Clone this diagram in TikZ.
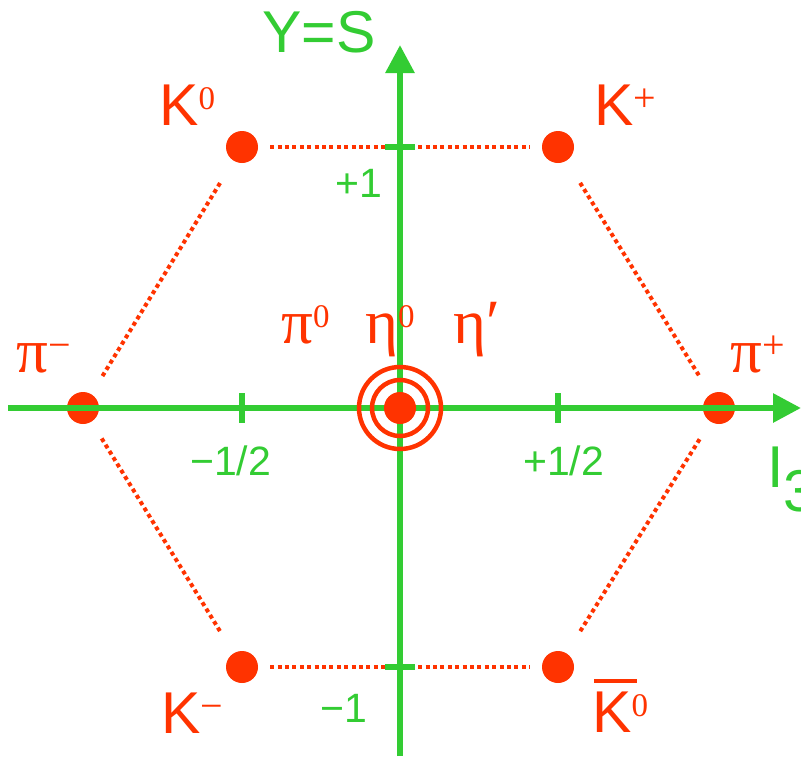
\documentclass[tikz,border=0pt]{standalone}
\usepackage{fontspec}
\setmainfont{Liberation Sans}
\newfontfamily\greekfont{Liberation Serif}
\usetikzlibrary{arrows.meta}
\definecolor{meson-red}{RGB}{255,51,0}
\definecolor{axis-green}{RGB}{51,204,51}
\newcommand{\mesonsup}[1]{\raisebox{16pt}{\fontsize{33}{33}\selectfont\greekfont #1}}
\newcommand{\mesoncharge}[1]{\raisebox{14pt}{\fontsize{40}{40}\selectfont\greekfont #1}}
\tikzset{
  meson-dot/.style={circle, fill=meson-red, minimum size=32pt, inner sep=0pt},
  meson-link/.style={draw=meson-red, line width=4pt, dash pattern=on 4pt off 3.4pt},
  meson-ring/.style={draw=meson-red, line width=4.5pt},
  meson-label/.style={text=meson-red, inner sep=0pt, anchor=base west,
    font=\fontsize{59}{60}\selectfont},
  greek-label/.style={meson-label, font=\fontsize{63}{63}\selectfont\greekfont},
  axis-line/.style={draw=axis-green, line width=6pt, -{Triangle[length=28pt, width=28pt]}},
  axis-tick/.style={draw=axis-green, line width=6pt},
  axis-label/.style={text=axis-green, inner sep=0pt, anchor=base west,
    font=\fontsize{41}{42}\selectfont}
}

\begin{document}
\begin{tikzpicture}[x=1pt, y=-1pt]
  \useasboundingbox (0,0) rectangle (801,756);
  % mesons
  \node[meson-dot] (k0) at (242,147) {};
  \node[meson-dot] (kplus) at (558,147) {};
  \node[meson-dot] (piminus) at (83,408) {};
  \node[meson-dot] (piplus) at (719,408) {};
  \node[meson-dot] (kminus) at (242,667) {};
  \node[meson-dot] (k0bar) at (558,667) {};
  % hexagon
  \draw[meson-link, shorten <=12pt, shorten >=12pt] (k0) -- (kplus);
  \draw[meson-link, shorten <=12pt, shorten >=12pt] (kminus) -- (k0bar);
  \draw[meson-link, shorten <=26pt, shorten >=19pt] (k0) -- (piminus);
  \draw[meson-link, shorten <=26pt, shorten >=19pt] (kminus) -- (piminus);
  \draw[meson-link, shorten <=26pt, shorten >=19pt] (kplus) -- (piplus);
  \draw[meson-link, shorten <=26pt, shorten >=19pt] (k0bar) -- (piplus);
  % axes
  \coordinate (i3-start) at (8,408);
  \coordinate (i3-end) at (801,408);
  \coordinate (y-start) at (400,756);
  \coordinate (y-end) at (400,45);
  \draw[axis-line] (i3-start) -- (i3-end);
  \draw[axis-line] (y-start) -- (y-end);
  \draw[axis-tick] (242,393) -- (242,423);
  \draw[axis-tick] (558,393) -- (558,423);
  \draw[axis-tick] (385,147) -- (415,147);
  \draw[axis-tick] (385,667) -- (415,667);
  % centre: pi0, eta0, eta'
  \node[meson-dot] (eta) at (400,408) {};
  \draw[meson-ring] (eta) circle[radius=28];
  \draw[meson-ring] (eta) circle[radius=41];
  % axis labels
  \node[axis-label, font=\fontsize{59}{60}\selectfont] (y-label) at (262,52) {Y=S};
  \node[axis-label, font=\fontsize{59}{60}\selectfont] (i3-label) at (767,487)
    {I\raisebox{-24pt}{3}};
  \node[axis-label] (plus-one) at (335,197) {+1};
  \node[axis-label] (minus-one) at (320,722) {−1};
  \node[axis-label] (minus-half) at (190,475) {−1/2};
  \node[axis-label] (plus-half) at (523,475) {+1/2};
  % meson labels
  \node[meson-label] (k0-label) at (159,125) {K\mesonsup{0}};
  \node[meson-label] (kplus-label) at (594,125) {K\mesoncharge{+}};
  \node[meson-label] (kminus-label) at (161,733) {K\mesoncharge{−}};
  \node[meson-label] (k0bar-label) at (592,732)
    {\rlap{\hspace{2pt}\rule[49pt]{43pt}{4pt}}K\mesonsup{0}};
  \node[greek-label] (piminus-label) at (16,372) {π\mesoncharge{−}};
  \node[greek-label] (piplus-label) at (730,372) {π\mesoncharge{+}};
  \node[greek-label] (pi0-label) at (281,343) {π\mesonsup{0}};
  \node[greek-label] (eta0-label) at (365,343) {η\mesonsup{0}};
  \node[greek-label] (etaprime-label) at (453,343) {η′};
\end{tikzpicture}
\end{document}
